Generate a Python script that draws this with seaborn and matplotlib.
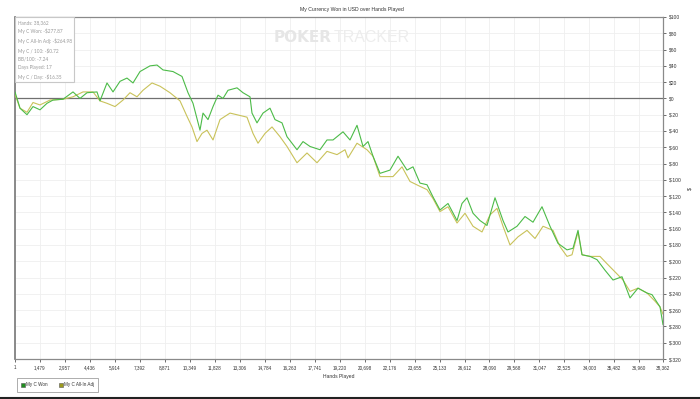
import matplotlib
matplotlib.use("Agg")
import matplotlib.pyplot as plt
import seaborn as sns
import pandas as pd
from matplotlib.lines import Line2D

# ---- data ----
won_hands = [1, 297, 711, 1067, 1481, 1895, 2251, 2843, 3435, 3849, 4263, 4855, 5033, 5447,
             5803, 6217, 6631, 6987, 7401, 7993, 8407, 8763, 9355, 9887, 10243, 10539, 10953,
             11131, 11427, 11723, 12019, 12315, 12611, 13143, 13499, 13913, 14031, 14327,
             14683, 15097, 15393, 15807, 16103, 16695, 17051, 17465, 18057, 18471, 18827,
             19419, 19833, 20247, 20603, 20899, 21195, 21609, 22201, 22675, 23208, 23563,
             23977, 24391, 24747, 25161, 25635, 26168, 26463, 26759, 27115, 27529, 27943,
             28417, 28891, 29187, 29719, 30193, 30667, 31199, 31673, 32147, 32679, 33035,
             33331, 33568, 34041, 34455, 34929, 35403, 35935, 36409, 36883, 37416, 37712,
             38185, 38362]
won_vals = [8, -12, -20, -10, -14, -6, -2, -1, 8, 0, 7, 8, -3, 19,
            8, 21, 25, 19, 33, 40, 41, 35, 33, 27, 7, -6, -39,
            -18, -26, -10, 4, 0, 10, 13, 7, 2, -18, -30,
            -18, -12, -26, -30, -47, -63, -53, -59, -63, -51, -51,
            -41, -51, -33, -59, -53, -71, -92, -88, -71, -88, -84,
            -104, -106, -121, -137, -129, -150, -129, -122, -141, -150, -156,
            -122, -150, -164, -157, -145, -152, -133, -157, -178, -186, -184,
            -162, -192, -194, -198, -211, -223, -219, -245, -233, -239, -241,
            -256, -277.87]

adj_hands = [1, 297, 711, 1067, 1481, 2073, 2843, 3435, 4027, 4619, 5033, 5447, 5921, 6395,
             6809, 7223, 7577, 8111, 8585, 9177, 9769, 10183, 10479, 10775, 11071, 11367,
             11723, 12137, 12729, 13735, 14091, 14387, 14801, 15215, 15689, 16103, 16695,
             17287, 17879, 18471, 19063, 19537, 19715, 20247, 20839, 21195, 21609, 22377,
             22911, 23385, 23977, 24391, 24747, 25161, 25635, 26168, 26641, 27115, 27647,
             28121, 28535, 28891, 29305, 29777, 30311, 30785, 31259, 31851, 32265, 32679,
             32975, 33331, 33568, 34041, 34633, 35047, 35521, 35995, 36409, 36883, 37416,
             37889, 38185, 38362]
adj_vals = [5, -12, -17, -5, -8, -2, -1, 2, 8, 8, -3, -6, -10, -2,
            7, 2, 10, 19, 15, 7, -3, -22, -35, -53, -43, -39,
            -51, -26, -18, -23, -43, -55, -43, -35, -47, -59, -79,
            -67, -79, -65, -69, -63, -73, -55, -63, -71, -96, -96,
            -84, -102, -108, -112, -123, -139, -133, -153, -141, -157, -164,
            -143, -135, -157, -180, -170, -162, -172, -157, -162, -182, -194,
            -192, -164, -192, -194, -194, -203, -213, -223, -237, -233, -239,
            -249, -256, -264.98]

x_ticks = [1, 1479, 2957, 4436, 5914, 7392, 8871, 10349, 11828, 13306, 14784, 16263,
           17741, 19220, 20698, 22176, 23655, 25133, 26612, 28090, 29568, 31047, 32525,
           34003, 35482, 36960, 38362]
y_ticks = list(range(100, -321, -20))
y_labels = ["$" + str(v) for v in y_ticks]

stats_lines = ["Hands: 38,362", "My C Won: -$277.87", "My C All-In Adj: -$264.98",
               "My C / 100: -$0.72", "BB/100: -7.24", "Days Played: 17", "My C / Day: -$16.35"]

series_names = ["My C Won", "My C All-In Adj"]
line_colors = ["#4cbb48", "#c9c25a"]
legend_colors = ["#1f8f1f", "#9c9a1c"]

df = pd.concat([
    pd.DataFrame({"hands": won_hands, "value": won_vals, "series": series_names[0]}),
    pd.DataFrame({"hands": adj_hands, "value": adj_vals, "series": series_names[1]}),
])

sns.set_style("white")
plt.rcParams["font.family"] = ["Liberation Sans", "DejaVu Sans"]

fig = plt.figure(figsize=(7, 3.99), dpi=100)
ax = fig.add_axes([15/700, 1-359/399, 648/700, 342/399])

ax.set_xlim(1, 38362)
ax.set_ylim(-320, 100)
for xt in x_ticks:
    ax.axvline(xt, color="#efefef", lw=0.6, zorder=0)
for yt in y_ticks:
    ax.axhline(yt, color="#efefef", lw=0.6, zorder=0)
ax.axhline(0, color="#707070", lw=0.9, zorder=1)

sns.lineplot(data=df, x="hands", y="value", hue="series", hue_order=series_names[::-1],
             palette={series_names[0]: line_colors[0], series_names[1]: line_colors[1]},
             lw=0.8, ax=ax, legend=False, sort=False, zorder=3)

ax.yaxis.tick_right()
ax.yaxis.set_label_position("right")
ax.set_yticks(y_ticks)
ax.set_yticklabels(y_labels)
ax.set_xticks(x_ticks)
ax.set_xticklabels([f"{v:,}" for v in x_ticks])
ax.tick_params(axis="y", labelsize=3.6, colors="#333333", length=2.5, width=0.5, pad=1.5,
               right=True, left=False)
ax.tick_params(axis="x", labelsize=3.3, colors="#333333", length=2.5, width=0.5, pad=2,
               bottom=True)
ax.set_xlabel("Hands Played", fontsize=3.6, color="#333333", labelpad=2)
ax.xaxis.set_label_coords(0.5, -0.045)
ax.set_ylabel("$", fontsize=3.8, color="#333333", labelpad=4)
for s in ax.spines.values():
    s.set_color("#8a8a8a")
    s.set_linewidth(0.9)
ax.spines["left"].set_color("#777777")
ax.spines["left"].set_linewidth(1.2)

# watermark
ax.text(0.489, 0.94, "POKER", transform=ax.transAxes, fontsize=11, fontweight="bold",
        color="#e6e6e6", ha="right", va="center", family=["DejaVu Sans"], zorder=0.5)
ax.text(0.492, 0.94, "TRACKER", transform=ax.transAxes, fontsize=11.5,
        color="#ededed", ha="left", va="center", family=["Liberation Sans"], zorder=0.5)

# stats box
ax.text(0.004, 0.992, "\n".join(stats_lines), transform=ax.transAxes, fontsize=3.4,
        color="#9a9a9a", va="top", ha="left", linespacing=1.75, zorder=5,
        family=["Lato", "DejaVu Sans"],
        bbox=dict(boxstyle="square,pad=0.55", fc="white", ec="#c8c8c8", lw=0.8))

fig.text(0.503, 1 - 9/399, "My Currency Won in USD over Hands Played", fontsize=3.7,
         color="#333333", ha="center", va="center")

handles = [Line2D([], [], marker="s", ls="none", markersize=3, markerfacecolor=c,
                  markeredgecolor="#555555", markeredgewidth=0.4) for c in legend_colors]
leg = fig.legend(handles, series_names, loc="upper left", bbox_to_anchor=(15/700, 1-376/399),
                 ncol=2, fontsize=3.3, frameon=True, fancybox=False, edgecolor="#888888",
                 handletextpad=0.2, columnspacing=2.5, borderpad=0.9, handlelength=0.8)
leg.get_frame().set_linewidth(0.6)
for t in leg.get_texts():
    t.set_color("#333333")

fig.add_artist(Line2D([0, 1], [1.5/399, 1.5/399], transform=fig.transFigure,
                      color="#222222", lw=1.5))

fig.savefig("out.png", dpi=100, facecolor="white")
